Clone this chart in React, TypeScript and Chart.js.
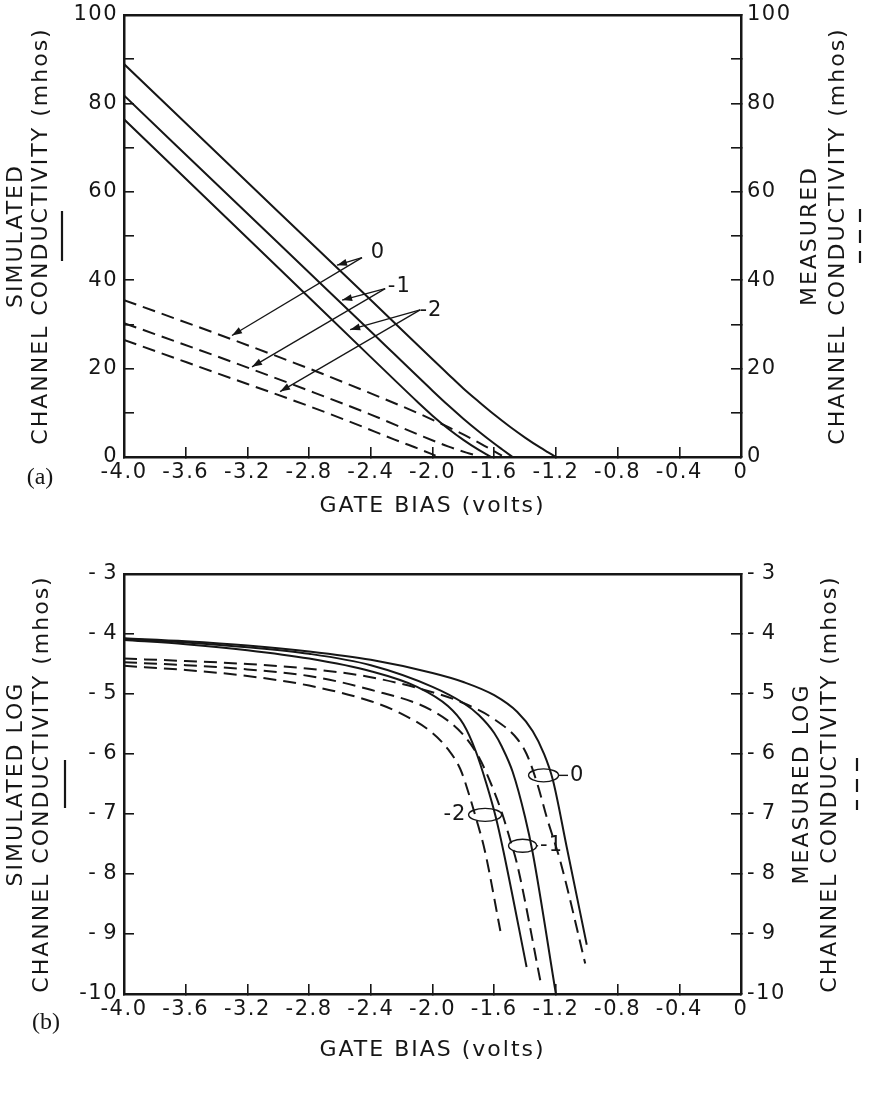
import React, { useEffect, useRef } from 'react';
import { Chart, registerables } from 'chart.js';

Chart.register(...registerables);

const INK = '#161616';
const FONT = '"DejaVu Sans", "Liberation Sans", sans-serif';
const SERIF = '"Liberation Serif", "DejaVu Serif", serif';

// ---------- shared x axis (gate bias, volts) ----------
const xMin = -4.0;
const xMax = 0;
const xStep = 0.4;

// ---------- panel (a): channel conductivity (mhos) ----------
const aYMin = 0;
const aYMax = 100;
const aYStep = 10;
const aYLabelEvery = 20;

// simulated (solid) curves, substrate bias 0, -1, -2
const aSim0X = [-4.0, -3.0, -2.4, -2.0, -1.9, -1.8, -1.7, -1.6, -1.5, -1.4, -1.3, -1.25, -1.2];
const aSim0Y = [88.9, 55.5, 35.5, 22.1, 18.8, 15.5, 12.5, 9.6, 6.9, 4.4, 2.1, 1.05, 0];
const aSim1X = [-4.0, -3.0, -2.4, -2.0, -1.9, -1.8, -1.7, -1.6, -1.55, -1.5, -1.48];
const aSim1Y = [81.8, 48.4, 28.4, 15.0, 11.75, 8.67, 5.77, 3.04, 1.75, 0.49, 0];
const aSim2X = [-4.0, -3.0, -2.4, -2.1, -2.0, -1.9, -1.8, -1.7, -1.65, -1.62];
const aSim2Y = [76.4, 42.8, 22.6, 12.56, 9.36, 6.46, 3.88, 1.6, 0.58, 0];

// measured (dashed) curves
const aMeas0X = [-4.0, -3.4, -2.8, -2.4, -2.1, -1.9, -1.75, -1.62, -1.55];
const aMeas0Y = [35.5, 27.9, 20.0, 14.4, 10.0, 6.8, 4.2, 1.7, 0.3];
const aMeas1X = [-4.0, -3.4, -2.8, -2.4, -2.1, -1.9, -1.78, -1.7];
const aMeas1Y = [30.3, 22.8, 15.0, 9.6, 5.2, 2.4, 1.0, 0.2];
const aMeas2X = [-4.0, -3.4, -2.8, -2.5, -2.25, -2.1, -1.98];
const aMeas2Y = [26.5, 19.0, 11.5, 7.5, 4.0, 2.0, 0.3];

// arrow annotations (data coordinates)
const aNoteText = ['0', '-1', '-2'];
const aNoteLabelX = [-2.353, -2.215, -2.01];
const aNoteLabelY = [46.2, 38.5, 33.1];
const aNoteHubX = [-2.457, -2.307, -2.08];
const aNoteHubY = [45.1, 38.1, 33.3];
const aNoteSimX = [-2.619, -2.586, -2.534];
const aNoteSimY = [43.4, 35.5, 28.8];
const aNoteMeasX = [-3.3, -3.17, -2.988];
const aNoteMeasY = [27.5, 20.4, 14.8];

// ---------- panel (b): log channel conductivity ----------
const bYMin = -10;
const bYMax = -3;
const bYStep = 1;

const bSim0X = [-4.0, -3.6, -3.2, -2.8, -2.4, -2.0, -1.8, -1.6, -1.45, -1.35, -1.28, -1.22, -1.13, -1.0];
const bSim0Y = [-4.07, -4.12, -4.19, -4.29, -4.43, -4.65, -4.8, -5.02, -5.3, -5.62, -5.98, -6.43, -7.55, -9.18];
const bSim1X = [-4.0, -3.6, -3.2, -2.8, -2.4, -2.0, -1.8, -1.7, -1.6, -1.55, -1.48, -1.4, -1.35, -1.2];
const bSim1Y = [-4.08, -4.14, -4.22, -4.33, -4.52, -4.88, -5.15, -5.35, -5.65, -5.88, -6.3, -7.05, -7.65, -10.0];
const bSim2X = [-4.0, -3.6, -3.2, -2.8, -2.4, -2.1, -1.9, -1.8, -1.72, -1.65, -1.59, -1.54, -1.39];
const bSim2Y = [-4.1, -4.17, -4.27, -4.41, -4.62, -4.88, -5.2, -5.5, -5.95, -6.5, -7.05, -7.62, -9.55];

const bMeas0X = [-4.0, -3.6, -3.2, -2.8, -2.4, -2.0, -1.8, -1.6, -1.45, -1.39, -1.32, -1.26, -1.17, -1.01];
const bMeas0Y = [-4.41, -4.45, -4.5, -4.58, -4.72, -4.97, -5.15, -5.42, -5.75, -6.0, -6.5, -7.05, -7.8, -9.49];
const bMeas1X = [-4.0, -3.6, -3.2, -2.8, -2.4, -2.0, -1.8, -1.7, -1.62, -1.55, -1.5, -1.45, -1.3];
const bMeas1Y = [-4.47, -4.52, -4.59, -4.7, -4.93, -5.28, -5.68, -6.05, -6.5, -6.98, -7.4, -7.85, -9.79];
const bMeas2X = [-4.0, -3.6, -3.2, -2.8, -2.4, -2.2, -2.0, -1.9, -1.82, -1.76, -1.72, -1.66, -1.56];
const bMeas2Y = [-4.53, -4.6, -4.7, -4.86, -5.12, -5.33, -5.65, -5.92, -6.25, -6.7, -7.05, -7.62, -8.95];

// ellipse annotations (data coordinates)
const bNoteText = ['0', '-1', '-2'];
const bNoteCx = [-1.28, -1.416, -1.659];
const bNoteCy = [-6.356, -7.53, -7.014];
const bNoteLabelX = [-1.062, -1.228, -1.855];

// ---------- helpers ----------
function series(label: string, xs: number[], ys: number[], dashed: boolean) {
  return {
    label,
    data: xs.map((x, i) => ({ x, y: ys[i] })),
    showLine: true,
    borderColor: INK,
    backgroundColor: INK,
    borderWidth: 2,
    borderDash: dashed ? [13, 7] : [],
    pointRadius: 0,
    pointHoverRadius: 0,
    cubicInterpolationMode: 'monotone',
    fill: false,
  };
}

function fmtX(v: number) {
  if (Math.abs(v) < 1e-6) return '0';
  return (Math.round(v * 10) / 10).toFixed(1);
}

const gridInward = {
  drawOnChartArea: false,
  drawTicks: true,
  tickLength: -10,
  tickColor: INK,
  tickWidth: 1.6,
  color: INK,
  lineWidth: 1.6,
};
const borderStyle = { display: true, color: INK, width: 2.5 };
const tickFont = { family: FONT, size: 21 };

function xAxes(bottomH: number) {
  return {
    x: {
      type: 'linear',
      position: 'bottom',
      min: xMin,
      max: xMax,
      ticks: {
        stepSize: xStep,
        autoSkip: false,
        maxRotation: 0,
        color: INK,
        font: tickFont,
        padding: 13,
        callback: (v: number) => fmtX(v),
      },
      grid: gridInward,
      border: borderStyle,
      afterFit: (s: any) => {
        s.height = bottomH;
      },
    },
    x2: {
      type: 'linear',
      position: 'top',
      min: xMin,
      max: xMax,
      ticks: { display: false },
      grid: { display: true, drawOnChartArea: false, drawTicks: false, color: INK },
      border: borderStyle,
      afterFit: (s: any) => {
        s.height = 0;
      },
    },
  };
}

function yAxis(pos: 'left' | 'right', min: number, max: number, step: number, cb: (v: number) => string, w: number) {
  return {
    type: 'linear',
    position: pos,
    min,
    max,
    ticks: {
      stepSize: step,
      autoSkip: false,
      color: INK,
      font: tickFont,
      padding: 16,
      callback: cb,
    },
    grid: gridInward,
    border: borderStyle,
    afterFit: (s: any) => {
      s.width = w;
    },
  };
}

const letterSpacingPlugin = {
  id: 'letterSpacingTicks',
  beforeDraw(chart: any) {
    chart.ctx.letterSpacing = '1.5px';
  },
};

function drawRot(ctx: CanvasRenderingContext2D, text: string, x: number, y: number) {
  ctx.save();
  ctx.translate(x, y);
  ctx.rotate(-Math.PI / 2);
  ctx.textAlign = 'center';
  ctx.textBaseline = 'middle';
  ctx.fillText(text, 0, 0);
  ctx.restore();
}

const decorPlugin = {
  id: 'decor',
  afterDraw(chart: any, _args: any, o: any) {
    const ctx: CanvasRenderingContext2D = chart.ctx;
    const ca = chart.chartArea;
    const cy = (ca.top + ca.bottom) / 2;
    ctx.save();
    ctx.fillStyle = INK;
    ctx.strokeStyle = INK;
    (ctx as any).letterSpacing = '2px';
    ctx.font = `22px ${FONT}`;
    o.leftTitle.forEach((t: string, i: number) => drawRot(ctx, t, o.leftTitleX[i], cy));
    o.rightTitle.forEach((t: string, i: number) => drawRot(ctx, t, o.rightTitleX[i], cy));
    ctx.textAlign = 'center';
    ctx.textBaseline = 'middle';
    ctx.fillText(o.xTitle, (ca.left + ca.right) / 2, ca.bottom + o.xTitleDy);
    // line-style keys next to the axis titles
    ctx.lineWidth = 2.2;
    ctx.beginPath();
    ctx.moveTo(o.leftMarkX, cy - o.markLen / 2);
    ctx.lineTo(o.leftMarkX, cy + o.markLen / 2);
    ctx.stroke();
    ctx.setLineDash([13, 8]);
    ctx.beginPath();
    ctx.moveTo(o.rightMarkX, cy - o.markLen / 2 - 2);
    ctx.lineTo(o.rightMarkX, cy + o.markLen / 2 + 2);
    ctx.stroke();
    ctx.setLineDash([]);
    (ctx as any).letterSpacing = '0px';
    ctx.font = `24px ${SERIF}`;
    ctx.fillText(o.panelLabel, o.panelLabelX, ca.bottom + o.panelLabelDy);
    ctx.restore();
  },
};

function arrow(ctx: CanvasRenderingContext2D, x0: number, y0: number, x1: number, y1: number) {
  ctx.beginPath();
  ctx.moveTo(x0, y0);
  ctx.lineTo(x1, y1);
  ctx.stroke();
  const a = Math.atan2(y1 - y0, x1 - x0);
  const L = 10;
  const W = 3.5;
  const bx = x1 - L * Math.cos(a);
  const by = y1 - L * Math.sin(a);
  ctx.beginPath();
  ctx.moveTo(x1, y1);
  ctx.lineTo(bx + W * Math.sin(a), by - W * Math.cos(a));
  ctx.lineTo(bx - W * Math.sin(a), by + W * Math.cos(a));
  ctx.closePath();
  ctx.fill();
}

const arrowNotesPlugin = {
  id: 'arrowNotes',
  afterDatasetsDraw(chart: any) {
    const ctx: CanvasRenderingContext2D = chart.ctx;
    const { x, y } = chart.scales;
    ctx.save();
    ctx.strokeStyle = INK;
    ctx.fillStyle = INK;
    ctx.lineWidth = 1.3;
    (ctx as any).letterSpacing = '1px';
    ctx.font = `21px ${FONT}`;
    ctx.textAlign = 'center';
    ctx.textBaseline = 'middle';
    for (let i = 0; i < aNoteText.length; i++) {
      const hx = x.getPixelForValue(aNoteHubX[i]);
      const hy = y.getPixelForValue(aNoteHubY[i]);
      arrow(ctx, hx, hy, x.getPixelForValue(aNoteSimX[i]), y.getPixelForValue(aNoteSimY[i]));
      arrow(ctx, hx, hy, x.getPixelForValue(aNoteMeasX[i]), y.getPixelForValue(aNoteMeasY[i]));
      ctx.fillText(aNoteText[i], x.getPixelForValue(aNoteLabelX[i]), y.getPixelForValue(aNoteLabelY[i]));
    }
    ctx.restore();
  },
};

const ellipseNotesPlugin = {
  id: 'ellipseNotes',
  afterDatasetsDraw(chart: any) {
    const ctx: CanvasRenderingContext2D = chart.ctx;
    const { x, y } = chart.scales;
    const rx = [15, 14, 16.5];
    ctx.save();
    ctx.strokeStyle = INK;
    ctx.fillStyle = INK;
    ctx.lineWidth = 1.4;
    (ctx as any).letterSpacing = '1px';
    ctx.font = `21px ${FONT}`;
    ctx.textAlign = 'center';
    ctx.textBaseline = 'middle';
    for (let i = 0; i < bNoteText.length; i++) {
      const cx = x.getPixelForValue(bNoteCx[i]);
      const cy = y.getPixelForValue(bNoteCy[i]);
      const lx = x.getPixelForValue(bNoteLabelX[i]);
      ctx.beginPath();
      ctx.ellipse(cx, cy, rx[i], 6.5, 0, 0, Math.PI * 2);
      ctx.stroke();
      const tw = ctx.measureText(bNoteText[i]).width;
      const dir = lx > cx ? 1 : -1;
      const e0 = cx + dir * rx[i];
      const e1 = lx - dir * (tw / 2 + 2);
      ctx.beginPath();
      ctx.moveTo(e0, cy);
      ctx.lineTo(e1, cy);
      ctx.stroke();
      ctx.fillText(bNoteText[i], lx, cy);
    }
    ctx.restore();
  },
};

const baseOptions = {
  responsive: false,
  devicePixelRatio: 1,
  animation: false,
  events: [],
};

function configA(): any {
  return {
    type: 'scatter',
    data: {
      datasets: [
        series('Simulated 0', aSim0X, aSim0Y, false),
        series('Simulated -1', aSim1X, aSim1Y, false),
        series('Simulated -2', aSim2X, aSim2Y, false),
        series('Measured 0', aMeas0X, aMeas0Y, true),
        series('Measured -1', aMeas1X, aMeas1Y, true),
        series('Measured -2', aMeas2X, aMeas2Y, true),
      ],
    },
    options: {
      ...baseOptions,
      layout: { padding: { top: 45, left: 0, right: 0, bottom: 0 } },
      scales: {
        ...xAxes(73),
        y: yAxis('left', aYMin, aYMax, aYStep, (v: number) => (Math.round(v) % aYLabelEvery === 0 ? String(Math.round(v)) : ''), 124),
        y2: yAxis('right', aYMin, aYMax, aYStep, (v: number) => (Math.round(v) % aYLabelEvery === 0 ? String(Math.round(v)) : ''), 130),
      },
      plugins: {
        legend: { display: false },
        tooltip: { enabled: false },
        decor: {
          leftTitle: ['SIMULATED', 'CHANNEL CONDUCTIVITY (mhos)'],
          leftTitleX: [16, 41],
          rightTitle: ['MEASURED', 'CHANNEL CONDUCTIVITY (mhos)'],
          rightTitleX: [810, 838],
          leftMarkX: 62,
          rightMarkX: 860,
          markLen: 50,
          xTitle: 'GATE BIAS (volts)',
          xTitleDy: 49,
          panelLabel: '(a)',
          panelLabelX: 40,
          panelLabelDy: 21,
        },
      },
    },
    plugins: [letterSpacingPlugin, arrowNotesPlugin, decorPlugin],
  };
}

function fmtLog(v: number) {
  const r = Math.round(v);
  if (r <= -10) return String(r);
  return '-\u2009' + Math.abs(r);
}

function configB(): any {
  return {
    type: 'scatter',
    data: {
      datasets: [
        series('Simulated 0', bSim0X, bSim0Y, false),
        series('Simulated -1', bSim1X, bSim1Y, false),
        series('Simulated -2', bSim2X, bSim2Y, false),
        series('Measured 0', bMeas0X, bMeas0Y, true),
        series('Measured -1', bMeas1X, bMeas1Y, true),
        series('Measured -2', bMeas2X, bMeas2Y, true),
      ],
    },
    options: {
      ...baseOptions,
      layout: { padding: { top: 44, left: 0, right: 0, bottom: 0 } },
      scales: {
        ...xAxes(99),
        y: yAxis('left', bYMin, bYMax, bYStep, fmtLog, 124),
        y2: yAxis('right', bYMin, bYMax, bYStep, fmtLog, 130),
      },
      plugins: {
        legend: { display: false },
        tooltip: { enabled: false },
        decor: {
          leftTitle: ['SIMULATED LOG', 'CHANNEL CONDUCTIVITY (mhos)'],
          leftTitleX: [16, 42],
          rightTitle: ['MEASURED LOG', 'CHANNEL CONDUCTIVITY (mhos)'],
          rightTitleX: [802, 830],
          leftMarkX: 65,
          rightMarkX: 857,
          markLen: 48,
          xTitle: 'GATE BIAS (volts)',
          xTitleDy: 56,
          panelLabel: '(b)',
          panelLabelX: 46,
          panelLabelDy: 29,
        },
      },
    },
    plugins: [letterSpacingPlugin, ellipseNotesPlugin, decorPlugin],
  };
}

export default function App() {
  const refA = useRef<HTMLCanvasElement>(null);
  const refB = useRef<HTMLCanvasElement>(null);

  useEffect(() => {
    const a = new Chart(refA.current as HTMLCanvasElement, configA());
    const b = new Chart(refB.current as HTMLCanvasElement, configB());
    return () => {
      a.destroy();
      b.destroy();
    };
  }, []);

  return (
    <div style={{ position: 'absolute', left: 0, top: 0, width: 871, height: 1093, background: '#fff', overflow: 'hidden' }}>
      <canvas
        ref={refA}
        width={871}
        height={560}
        style={{ position: 'absolute', left: 0, top: -30, width: 871, height: 560 }}
      />
      <canvas
        ref={refB}
        width={871}
        height={563}
        style={{ position: 'absolute', left: 0, top: 530, width: 871, height: 563 }}
      />
    </div>
  );
}
